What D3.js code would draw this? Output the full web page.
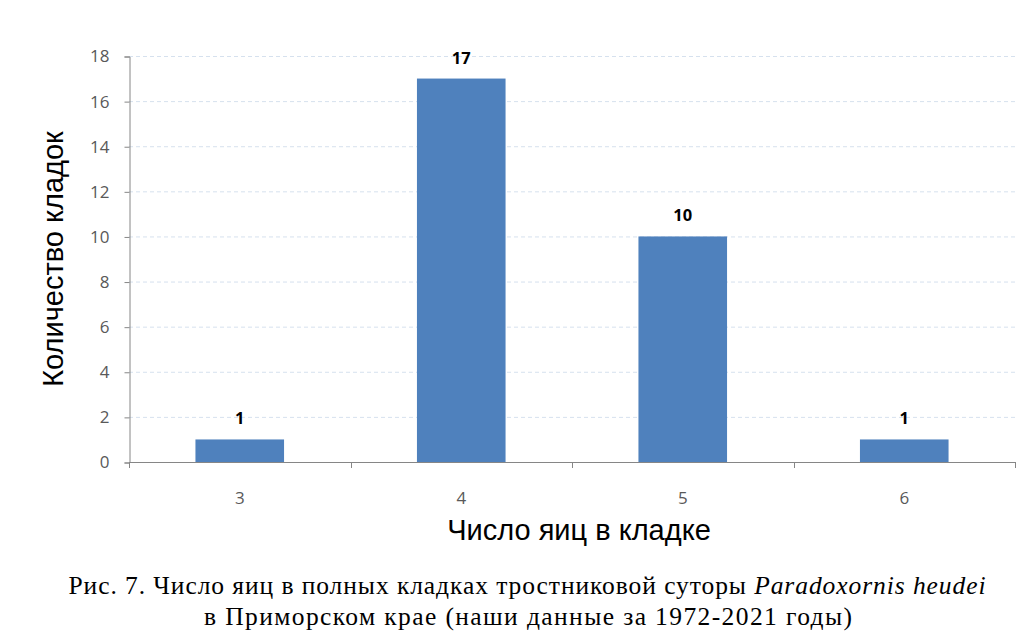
<!DOCTYPE html>
<html>
<head>
<meta charset="utf-8">
<script src="https://cdn.jsdelivr.net/npm/d3@7"></script>
<style>
  body { margin: 0; background: #fff; }
</style>
</head>
<body>
<div id="chart"></div>
<script>
const categories = ["3", "4", "5", "6"];
const counts = [1, 17, 10, 1];
const yTicks = [0, 2, 4, 6, 8, 10, 12, 14, 16, 18];

const width = 1024, height = 638;
const plot = { left: 129, right: 1015, top: 56, bottom: 462 };

const svg = d3.select("#chart")
  .append("svg")
  .attr("width", width)
  .attr("height", height);

const x = d3.scaleBand()
  .domain(categories)
  .range([plot.left, plot.right])
  .padding(0);

const y = d3.scaleLinear()
  .domain([0, 18])
  .range([plot.bottom, plot.top]);

// gridlines
svg.append("g")
  .selectAll("line")
  .data(yTicks.filter(d => d > 0))
  .join("line")
  .attr("x1", plot.left)
  .attr("x2", plot.right)
  .attr("y1", d => y(d) + 0.5)
  .attr("y2", d => y(d) + 0.5)
  .attr("stroke", "#d6e1ee")
  .attr("stroke-width", 1)
  .attr("stroke-dasharray", "4,3");

// y axis
const yAxis = svg.append("g")
  .attr("transform", `translate(${plot.left + 0.5},0.5)`)
  .call(d3.axisLeft(y).tickValues(yTicks).tickSize(5).tickPadding(15));
yAxis.select(".domain").attr("stroke", "#868686");
yAxis.selectAll(".tick line").attr("stroke", "#868686");
yAxis.selectAll(".tick text")
  .attr("font-family", "'Open Sans', sans-serif")
  .attr("font-size", 17)
  .attr("fill", "#595959");

// x axis with boundary ticks
svg.append("line")
  .attr("x1", plot.left).attr("x2", plot.right)
  .attr("y1", plot.bottom + 0.5).attr("y2", plot.bottom + 0.5)
  .attr("stroke", "#868686");
const bounds = categories.map(c => x(c)).concat([x(categories[categories.length - 1]) + x.bandwidth()]);
svg.append("g")
  .selectAll("line")
  .data(bounds)
  .join("line")
  .attr("x1", d => Math.round(d) + 0.5)
  .attr("x2", d => Math.round(d) + 0.5)
  .attr("y1", plot.bottom)
  .attr("y2", plot.bottom + 6)
  .attr("stroke", "#868686");
svg.append("g")
  .selectAll("text")
  .data(categories)
  .join("text")
  .attr("x", d => x(d) + x.bandwidth() / 2)
  .attr("y", plot.bottom + 42)
  .attr("text-anchor", "middle")
  .attr("font-family", "'Open Sans', sans-serif")
  .attr("font-size", 17)
  .attr("fill", "#595959")
  .text(d => d);

// bars
const bw = x.bandwidth() * 0.4;
svg.append("g")
  .selectAll("rect")
  .data(categories)
  .join("rect")
  .attr("x", d => x(d) + (x.bandwidth() - bw) / 2)
  .attr("y", (d, i) => y(counts[i]))
  .attr("width", bw)
  .attr("height", (d, i) => plot.bottom - y(counts[i]))
  .attr("fill", "#4f81bd");

// value labels
svg.append("g")
  .selectAll("text")
  .data(categories)
  .join("text")
  .attr("x", d => x(d) + x.bandwidth() / 2)
  .attr("y", (d, i) => y(counts[i]) - 15)
  .attr("text-anchor", "middle")
  .attr("font-family", "'Open Sans', sans-serif")
  .attr("font-weight", "bold")
  .attr("font-size", 16.5)
  .attr("fill", "#000")
  .text((d, i) => counts[i]);

// axis titles
svg.append("text")
  .attr("transform", `translate(63,${(plot.top + plot.bottom) / 2}) rotate(-90)`)
  .attr("text-anchor", "middle")
  .attr("font-family", "'Liberation Sans', Arial, sans-serif")
  .attr("font-size", 29)
  .attr("fill", "#000")
  .text("Количество кладок");

svg.append("text")
  .attr("x", 579)
  .attr("y", 540)
  .attr("text-anchor", "middle")
  .attr("font-family", "'Liberation Sans', Arial, sans-serif")
  .attr("font-size", 29)
  .attr("fill", "#000")
  .text("Число яиц в кладке");

// caption
const cap = svg.append("text")
  .attr("x", 527)
  .attr("y", 594)
  .attr("text-anchor", "middle")
  .attr("font-family", "'Liberation Serif', serif")
  .attr("font-size", 25.5)
  .attr("textLength", 917)
  .attr("lengthAdjust", "spacing")
  .attr("fill", "#000");
cap.append("tspan").text("Рис. 7. Число яиц в полных кладках тростниковой суторы ");
cap.append("tspan").attr("font-style", "italic").text("Paradoxornis heudei");

svg.append("text")
  .attr("x", 528)
  .attr("y", 625)
  .attr("text-anchor", "middle")
  .attr("font-family", "'Liberation Serif', serif")
  .attr("font-size", 25.5)
  .attr("textLength", 648)
  .attr("lengthAdjust", "spacing")
  .attr("fill", "#000")
  .text("в Приморском крае (наши данные за 1972-2021 годы)");
</script>
</body>
</html>
